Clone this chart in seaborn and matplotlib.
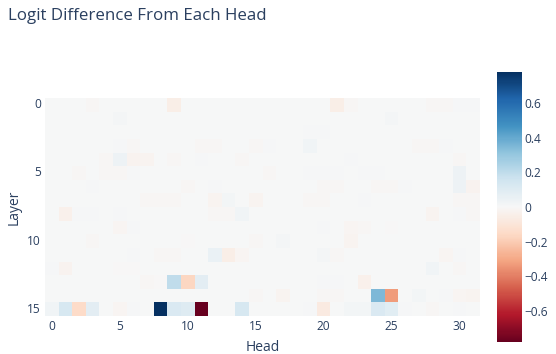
import numpy as np
import pandas as pd
import matplotlib.pyplot as plt
import seaborn as sns

# logit difference per (layer, head)
layers = list(range(16))
heads = list(range(32))
logit_diff = [
    [0, 0, 0, -.01, 0, 0, 0, 0, .005, -.05, 0, 0, 0, 0, 0, 0, 0, 0, 0, 0, 0, -.05, -.01, 0, 0, 0, 0, 0, -.01, -.01, .01, .01],
    [.005, 0, 0, 0, 0, .015, 0, 0, 0, 0, 0, 0, 0, 0, 0, 0, 0, 0, 0, .005, 0, 0, 0, 0, 0, .015, 0, 0, 0, 0, 0, 0],
    [0, 0, 0, 0, 0, 0, 0, 0, 0, 0, 0, 0, 0, 0, 0, 0, 0, 0, 0, .01, .01, 0, 0, 0, 0, 0, 0, .005, 0, 0, 0, 0],
    [0, 0, 0, 0, 0, .01, -.01, 0, 0, 0, 0, -.01, -.01, 0, 0, -.01, .01, 0, 0, .03, 0, 0, 0, 0, .005, 0, 0, -.01, -.01, .01, 0, 0],
    [0, 0, 0, 0, -.01, .04, -.03, -.02, 0, -.01, 0, .01, 0, 0, -.01, 0, 0, 0, 0, 0, 0, 0, .01, 0, 0, 0, 0, 0, 0, 0, -.01, 0],
    [0, 0, -.01, 0, -.01, -.01, .01, 0, 0, 0, 0, 0, 0, 0, 0, 0, -.01, 0, 0, .01, .01, .01, 0, .01, .01, 0, 0, 0, 0, 0, .04, 0],
    [0, 0, 0, .01, 0, 0, 0, 0, 0, 0, -.01, 0, .01, 0, 0, 0, 0, 0, 0, 0, -.01, -.01, 0, 0, -.01, -.01, .01, 0, 0, 0, .04, -.03],
    [0, 0, 0, 0, 0, 0, 0, -.01, -.01, -.01, 0, 0, -.02, .02, 0, -.02, 0, 0, 0, -.01, -.01, 0, 0, .01, 0, 0, 0, 0, 0, 0, -.01, -.01],
    [0, -.04, .01, .01, 0, .01, 0, 0, 0, 0, 0, 0, -.01, -.01, .03, 0, 0, 0, 0, 0, 0, 0, 0, 0, 0, 0, 0, 0, -.02, 0, .01, -.01],
    [0, 0, 0, 0, 0, -.015, .01, 0, 0, 0, 0, 0, 0, 0, 0, 0, 0, 0, 0, 0, .01, 0, -.015, -.01, 0, -.005, 0, 0, 0, 0, 0, 0],
    [0, 0, 0, -.01, 0, 0, 0, 0, 0, 0, -.005, 0, 0, 0, 0, -.01, 0, .015, 0, 0, 0, 0, -.02, 0, 0, 0, 0, 0, 0, 0, 0, 0],
    [0, 0, 0, 0, 0, 0, .01, 0, -.01, -.01, .005, .005, .05, -.05, -.015, 0, 0, 0, 0, 0, .015, -.01, 0, 0, 0, 0, 0, 0, 0, -.015, .01, 0],
    [.01, -.03, 0, 0, 0, -.005, -.005, 0, 0, 0, 0, 0, 0, 0, 0, 0, 0, .005, 0, 0, 0, 0, 0, 0, 0, 0, 0, 0, .025, 0, -.01, 0],
    [0, 0, 0, 0, 0, 0, 0, -.01, -.005, .2, -.17, .08, 0, 0, 0, 0, .005, 0, 0, 0, .01, .01, 0, -.04, 0, 0, 0, 0, 0, 0, 0, 0],
    [0, 0, 0, .005, 0, 0, 0, 0, 0, 0, 0, 0, 0, 0, 0, -.01, 0, -.02, 0, 0, -.01, -.01, 0, 0, .35, -.33, 0, .02, 0, .01, -.015, -.02],
    [.03, .13, -.15, .08, 0, -.015, .01, 0, .78, .12, .1, -.78, 0, 0, .13, 0, 0, 0, 0, .01, -.07, 0, .02, .02, .12, .09, .01, 0, -.01, 0, .01, 0],
]
x_ticks = [0, 5, 10, 15, 20, 25, 30]
y_ticks = [0, 5, 10, 15]
cbar_ticks = [-0.6, -0.4, -0.2, 0, 0.2, 0.4, 0.6]

plt.rcParams['font.family'] = ['Open Sans', 'DejaVu Sans']
txt = '#2a3f5f'

df = pd.DataFrame(logit_diff, index=layers, columns=heads)

fig = plt.figure(figsize=(5.56, 3.54), dpi=100)
ax = fig.add_axes([45 / 556, 1 - 316 / 354, 435 / 556, 218 / 354])
cax = fig.add_axes([497 / 556, 1 - 342 / 354, 25 / 556, 270 / 354])

sns.heatmap(df, ax=ax, cbar_ax=cax, cmap='RdBu', vmin=-0.78, vmax=0.78)

ax.set_xticks(np.array(x_ticks) + 0.5)
ax.set_xticklabels([str(t) for t in x_ticks], rotation=0)
ax.set_yticks(np.array(y_ticks) + 0.5)
ax.set_yticklabels([str(t) for t in y_ticks], rotation=0)
ax.tick_params(length=0, labelsize=8.6, colors=txt, pad=3)
ax.set_xlabel('Head', fontsize=10, color=txt, labelpad=5)
ax.set_ylabel('Layer', fontsize=10, color=txt, labelpad=4)

cbar = ax.collections[0].colorbar
cbar.outline.set_visible(False)
cbar.set_ticks(cbar_ticks)
cbar.set_ticklabels(['\u22120.6', '\u22120.4', '\u22120.2', '0', '0.2', '0.4', '0.6'])
cax.tick_params(length=0, labelsize=8.6, colors=txt, pad=2)

fig.text(8 / 556, 1 - 16 / 354, 'Logit Difference From Each Head',
         fontsize=12.2, color=txt, va='center', ha='left')

fig.savefig('out.png', dpi=100)
